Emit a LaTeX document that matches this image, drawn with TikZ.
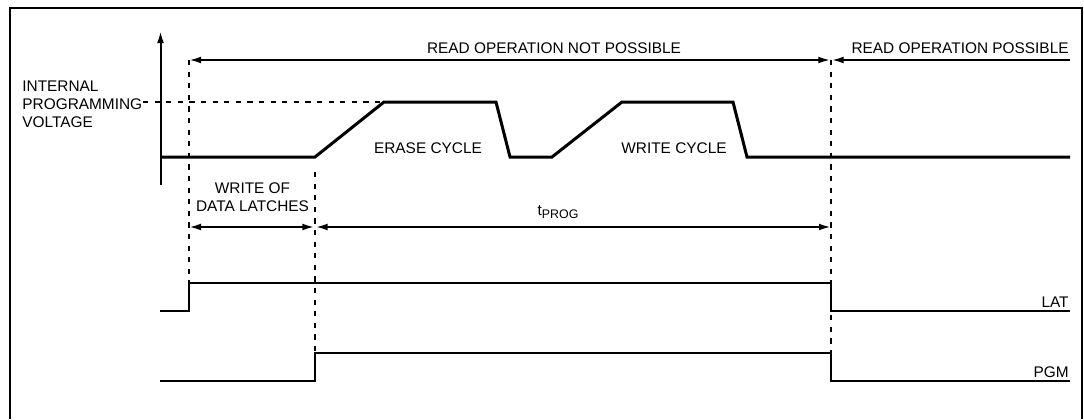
\documentclass[tikz,border=0pt]{standalone}
\usepackage{fontspec}
\setmainfont{Liberation Sans}
\usetikzlibrary{arrows.meta}

\begin{document}
\begin{tikzpicture}[x=5pt,y=5pt,
		every node/.style={font=\fontsize{7.7}{9}\selectfont, inner sep=0pt},
		trace/.style={line width=1.5pt, line join=miter},
		sig/.style={line width=1pt},
		guide/.style={line width=0.9pt, dash pattern=on 2.6pt off 3.2pt},
		tip/.style={Latex[length=6pt,width=3.4pt]},
		dim/.style={line width=1pt, {Latex[length=6pt,width=3.4pt]}-{Latex[length=6pt,width=3.4pt]}}]
			\useasboundingbox (0,0) rectangle (108.4,41.9);
			\draw [line width=0.8pt] (1.0,0) -- (1.0,41.1) -- (108.2,41.1) -- (108.2,0);
			
			% time markers
			\coordinate (rA) at (18.9,35.9);
			\coordinate (rB) at (83.1,35.9);
			\coordinate (rC) at (107.0,35.9);
			\coordinate (pA) at (18.9,19.2);
			\coordinate (pB) at (31.5,19.2);
			\coordinate (pC) at (83.1,19.2);
			
			% voltage
			\draw [line width=1pt, -{Latex[length=6pt,width=3.4pt]}] (16.05,23.4) -- (16.05,38.8);
			\draw [guide] (14.3,31.7) -- (38.4,31.7);
			\draw [trace] (16.05,26.2) -- (31.5,26.2) -- (38.4,31.7) -- (49.6,31.7) -- (51.0,26.2) -- (55.2,26.2)
				-- (62.2,31.7) -- (73.3,31.7) -- (74.7,26.2) -- (107.0,26.2);
			\node [anchor=west, align=left] (ipv) at (2.2,31.5) {INTERNAL\\PROGRAMMING\\VOLTAGE};
			\node [anchor=base] (erase) at (42.8,26.5) {ERASE CYCLE};
			\node [anchor=base] (write) at (67.4,26.5) {WRITE CYCLE};
			
			% guides
			\draw [guide] (rA) -- (18.9,13.6);
			\draw [guide] (31.5,24.7) -- (31.5,6.6);
			\draw [guide] (rB) -- (83.1,6.6);
			
			% read windows
			\draw [dim, shorten >=0.3pt] (rA) -- (rB);
			\draw [line width=1pt, -{Latex[length=6pt,width=3.4pt]}, shorten >=0.3pt] (rC) -- (rB);
			\node [anchor=base] (notposs) at (55.4,36.5) {READ OPERATION NOT POSSIBLE};
			\node [anchor=base east] (poss) at (106.9,36.5) {READ OPERATION POSSIBLE};
			
			% programming time
			\draw [dim, shorten >=0.3pt] (pA) -- (pB);
			\draw [dim, shorten <=0.3pt] (pB) -- (pC);
			\node [align=center] (latch) at (25.25,22.2) {WRITE OF\\DATA LATCHES};
			\node [anchor=base] (tprog) at (55.8,20.4) {t\raisebox{-1.6pt}{\fontsize{6.2}{6}\selectfont PROG}};
			
			% LAT and PGM
			\draw [sig] (16.0,10.8) -- (18.9,10.8) -- (18.9,13.6) -- (83.1,13.6) -- (83.1,10.8) -- (107.0,10.8);
			\draw [sig] (16.0,3.8) -- (31.5,3.8) -- (31.5,6.6) -- (83.1,6.6) -- (83.1,3.8) -- (107.0,3.8);
			\node [anchor=base east] (lat) at (106.9,11.2) {LAT};
			\node [anchor=base east] (pgm) at (106.9,4.2) {PGM};
		\end{tikzpicture}
\end{document}
